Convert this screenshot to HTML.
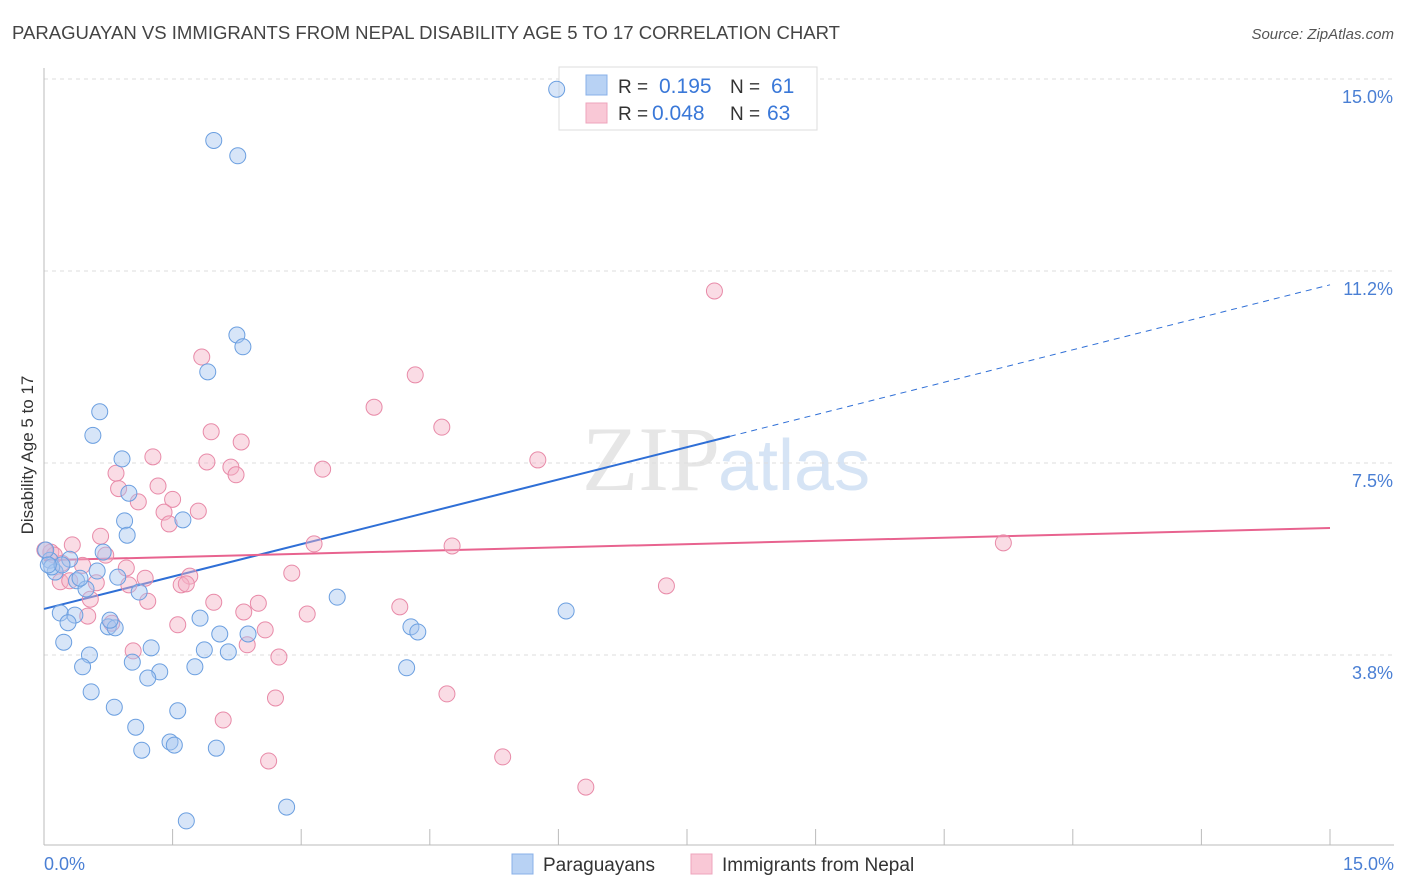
<!DOCTYPE html>
<html><head><meta charset="utf-8"><style>
body{margin:0;background:#fff;font-family:"Liberation Sans",sans-serif;}
svg{display:block}
</style></head><body>
<svg id="c" width="1406" height="892" xmlns="http://www.w3.org/2000/svg">
<text x="12" y="39" font-size="18" fill="#444" textLength="828" lengthAdjust="spacingAndGlyphs">PARAGUAYAN VS IMMIGRANTS FROM NEPAL DISABILITY AGE 5 TO 17 CORRELATION CHART</text>
<text x="1394" y="39" font-size="15" fill="#555" font-style="italic" text-anchor="end">Source: ZipAtlas.com</text>
<text x="720" y="490" font-size="92" fill="#e6e6e6" text-anchor="end" font-family="Liberation Serif,serif">ZIP</text>
<text x="718" y="490" font-size="72" fill="#d6e4f5">atlas</text>
<g id="grid"></g><g id="axes"></g><g id="lines"></g>
<text x="33" y="455" font-size="17" fill="#333" text-anchor="middle" transform="rotate(-90 33 455)">Disability Age 5 to 17</text>
<text x="44" y="870" font-size="18" fill="#4a7fd4">0.0%</text>
<text x="1394" y="870" font-size="18" fill="#4a7fd4" text-anchor="end">15.0%</text>
<g>
<rect x="559" y="67" width="258" height="63" fill="#fff" stroke="#ddd"/>
<rect x="586" y="75" width="21" height="20" fill="#b8d2f4" stroke="#88b0e8"/>
<rect x="586" y="103" width="21" height="20" fill="#f9c8d6" stroke="#eea4bc"/>
<text x="618" y="93" font-size="19" fill="#333">R = </text><text x="659" y="93" font-size="21" fill="#3a78d8">0.195</text>
<text x="730" y="93" font-size="19" fill="#333">N = </text><text x="771" y="93" font-size="21" fill="#3a78d8">61</text>
<text x="618" y="120" font-size="19" fill="#333">R = </text><text x="652" y="120" font-size="21" fill="#3a78d8">0.048</text>
<text x="730" y="120" font-size="19" fill="#333">N = </text><text x="767" y="120" font-size="21" fill="#3a78d8">63</text>
</g>
<g id="pts"></g>
<g>
<rect x="512" y="854" width="21" height="20" fill="#b8d2f4" stroke="#88b0e8"/>
<text x="543" y="871" font-size="19" fill="#333">Paraguayans</text>
<rect x="691" y="854" width="21" height="20" fill="#f9c8d6" stroke="#eea4bc"/>
<text x="722" y="871" font-size="19" fill="#333">Immigrants from Nepal</text>
</g>
</svg>
<script>
const yTicks=[3.75,7.5,11.25,15];
const yTickLabels=["3.8%","7.5%","11.2%","15.0%"];
const xTicks=[0,1.5,3,4.5,6,7.5,9,10.5,12,13.5,15];
const blueX=[5.98,1.98,2.26,2.25,2.32,1.91,0.65,0.57,0.91,0.99,0.94,1.62,0.97,0.69,0.07,0.13,0.62,0.38,0.86,0.49,1.11,0.19,0.36,0.28,1.82,3.42,6.09,4.28,4.36,0.75,0.83,0.23,2.05,2.38,1.25,0.53,1.87,2.15,1.03,1.35,0.45,1.76,4.23,1.21,0.55,0.82,1.56,1.07,1.47,1.52,1.14,2.01,2.83,1.66,0.02,0.09,0.30,0.77,0.21,0.42,0.05];
const blueY=[14.8,13.8,13.5,10.0,9.77,9.28,8.5,8.04,7.58,6.91,6.37,6.39,6.09,5.76,5.6,5.37,5.39,5.2,5.27,5.04,4.98,4.57,4.53,4.38,4.47,4.88,4.61,4.3,4.2,4.3,4.28,4.0,4.16,4.16,3.89,3.75,3.85,3.81,3.61,3.42,3.52,3.52,3.5,3.3,3.03,2.73,2.66,2.34,2.05,1.99,1.89,1.93,0.78,0.51,5.8,5.47,5.62,4.43,5.51,5.25,5.51];
const pinkX=[7.82,1.84,4.33,3.85,1.95,4.64,2.30,1.27,5.76,1.90,3.25,2.18,2.24,0.84,0.87,1.33,1.50,1.10,1.80,1.40,1.46,0.66,0.33,3.15,4.76,11.19,0.08,0.72,0.21,0.45,0.96,1.18,2.89,1.70,0.19,0.61,1.60,1.66,0.99,7.26,0.54,1.21,1.98,2.50,4.15,3.07,2.33,0.51,0.79,1.56,2.58,2.37,1.04,2.74,4.70,2.70,2.09,5.35,2.62,6.32,0.12,0.01,0.30];
const pinkY=[10.86,9.57,9.22,8.59,8.11,8.2,7.91,7.62,7.56,7.52,7.38,7.42,7.27,7.3,7.0,7.05,6.79,6.74,6.56,6.54,6.31,6.07,5.9,5.92,5.88,5.94,5.76,5.7,5.54,5.5,5.45,5.25,5.35,5.29,5.18,5.16,5.12,5.14,5.12,5.1,4.84,4.8,4.78,4.76,4.69,4.55,4.59,4.51,4.37,4.34,4.24,3.95,3.83,3.71,2.99,2.91,2.48,1.76,1.68,1.17,5.7,5.8,5.2];
const blueTrend=[[0,4.65],[8,8.02],[15,10.98]];
const pinkTrend=[[0,5.6],[15,6.23]];
const NS="http://www.w3.org/2000/svg";
const X=v=>44+v*1286/15, Y=v=>847-v*51.2;
function mk(tag,attrs,parent){const e=document.createElementNS(NS,tag);for(const k in attrs)e.setAttribute(k,attrs[k]);document.getElementById(parent).appendChild(e);return e;}
yTicks.forEach((t,i)=>{
 const l=mk('line',{x1:44,x2:1394,y1:Y(t),y2:Y(t),stroke:'#ddd','stroke-dasharray':'4 4'},'grid');
 
 
 const tx=mk('text',{x:1393,y:Y(t)+24,'font-size':18,fill:'#4a7fd4','text-anchor':'end'},'grid');
 tx.textContent=yTickLabels[i];
 
 
});
const ax=mk('line',{x1:44,x2:44,y1:68,y2:845,stroke:'#bbb'},'axes');


const bx=mk('line',{x1:44,x2:1394,y1:845,y2:845,stroke:'#bbb'},'axes');


xTicks.forEach(t=>{
 const l=mk('line',{x1:X(t),x2:X(t),y1:829,y2:845,stroke:'#bbb'},'axes');
 
 
});
function pts(xs,ys,fill,stroke,name){
 xs.forEach((x,i)=>{
  const c=mk('circle',{cx:X(x),cy:Y(ys[i]),r:8,fill:fill,'fill-opacity':0.45,stroke:stroke,'stroke-width':1},'pts');
  
  
 });
}
pts(pinkX,pinkY,'#f4b2c6','#e88aa8','nepal-point');
pts(blueX,blueY,'#a6c6ef','#6b9fe0','paraguayan-point');
const b1=mk('line',{x1:X(blueTrend[0][0]),y1:Y(blueTrend[0][1]),x2:X(blueTrend[1][0]),y2:Y(blueTrend[1][1]),stroke:'#2f6fd6','stroke-width':2},'lines');


const b2=mk('line',{x1:X(blueTrend[1][0]),y1:Y(blueTrend[1][1]),x2:X(blueTrend[2][0]),y2:Y(blueTrend[2][1]),stroke:'#2f6fd6','stroke-width':1,'stroke-dasharray':'6 5'},'lines');


const p1=mk('line',{x1:X(pinkTrend[0][0]),y1:Y(pinkTrend[0][1]),x2:X(pinkTrend[1][0]),y2:Y(pinkTrend[1][1]),stroke:'#e8638f','stroke-width':2},'lines');


</script>
</body></html>
